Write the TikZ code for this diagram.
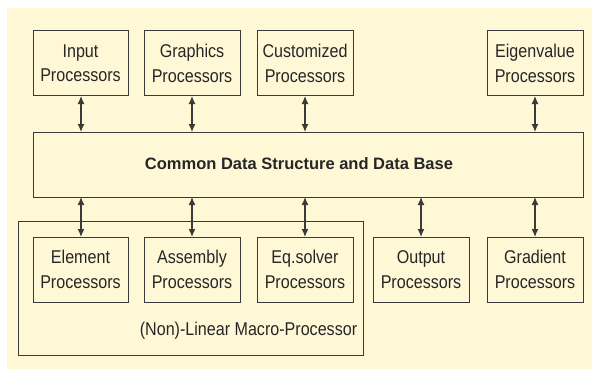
\documentclass[tikz,border=0pt]{standalone}
\usepackage{fontspec}
\setmainfont{Liberation Sans}
\newfontfamily\condfont[FakeStretch=0.87]{Liberation Sans}
\usetikzlibrary{arrows.meta}
\definecolor{bgc}{HTML}{FFF8D6}
\definecolor{lnc}{HTML}{3A3A3A}
\begin{document}
\begin{tikzpicture}[x=1pt,y=-1pt,
  box/.style={draw=lnc,line width=1pt,fill=bgc},
  lbl/.style={font=\condfont\fontsize{18.5}{24.3}\selectfont,text=black!85,align=center,inner sep=0pt},
  conn/.style={lnc,line width=1.2pt,{Latex[length=8pt,width=7pt]}-{Latex[length=8pt,width=7pt]}}]
\useasboundingbox (0,0) rectangle (592,369);
\fill[bgc] (7,8) rectangle (592,369);
% macro container
\draw[box] (18,221) rectangle (363,355);
\node[lbl] (macrolbl) at (248.5,331) {(Non)-Linear Macro-Processor};
% top boxes
\draw[box] (33,31) rectangle (128,96) node[midway,lbl] (inp) {Input\\Processors};
\draw[box] (144,31) rectangle (240,96) node[midway,lbl] (gra) {Graphics\\Processors};
\draw[box] (257,31) rectangle (353,96) node[midway,lbl] (cus) {Customized\\Processors};
\draw[box] (487,31) rectangle (583,96) node[midway,lbl] (eig) {Eigenvalue\\Processors};
% common
\draw[box] (33,132) rectangle (583,197);
\node[inner sep=0pt,text=black!85,font=\fontsize{16.5}{20}\selectfont\bfseries] (cds) at (299,164) {Common Data Structure and Data Base};
% bottom boxes
\draw[box] (33,237) rectangle (128,302) node[midway,lbl] (ele) {Element\\Processors};
\draw[box] (144,237) rectangle (240,302) node[midway,lbl] (ass) {Assembly\\Processors};
\draw[box] (257,237) rectangle (353,302) node[midway,lbl] (eqs) {Eq.solver\\Processors};
\draw[box] (373,237) rectangle (469,302) node[midway,lbl] (out) {Output\\Processors};
\draw[box] (487,237) rectangle (583,302) node[midway,lbl] (grd) {Gradient\\Processors};
% connectors
\coordinate (t1) at (81,96); \coordinate (b1) at (81,132);
\coordinate (t2) at (192,96); \coordinate (b2) at (192,132);
\coordinate (t3) at (305,96); \coordinate (b3) at (305,132);
\coordinate (t4) at (535,96); \coordinate (b4) at (535,132);
\coordinate (c1) at (81,197); \coordinate (d1) at (81,237);
\coordinate (c2) at (192,197); \coordinate (d2) at (192,237);
\coordinate (c3) at (305,197); \coordinate (d3) at (305,237);
\coordinate (c4) at (421,197); \coordinate (d4) at (421,237);
\coordinate (c5) at (535,197); \coordinate (d5) at (535,237);
\foreach \a/\b in {t1/b1,t2/b2,t3/b3,t4/b4,c1/d1,c2/d2,c3/d3,c4/d4,c5/d5}
  \draw[conn] (\a) -- (\b);
\end{tikzpicture}
\end{document}
